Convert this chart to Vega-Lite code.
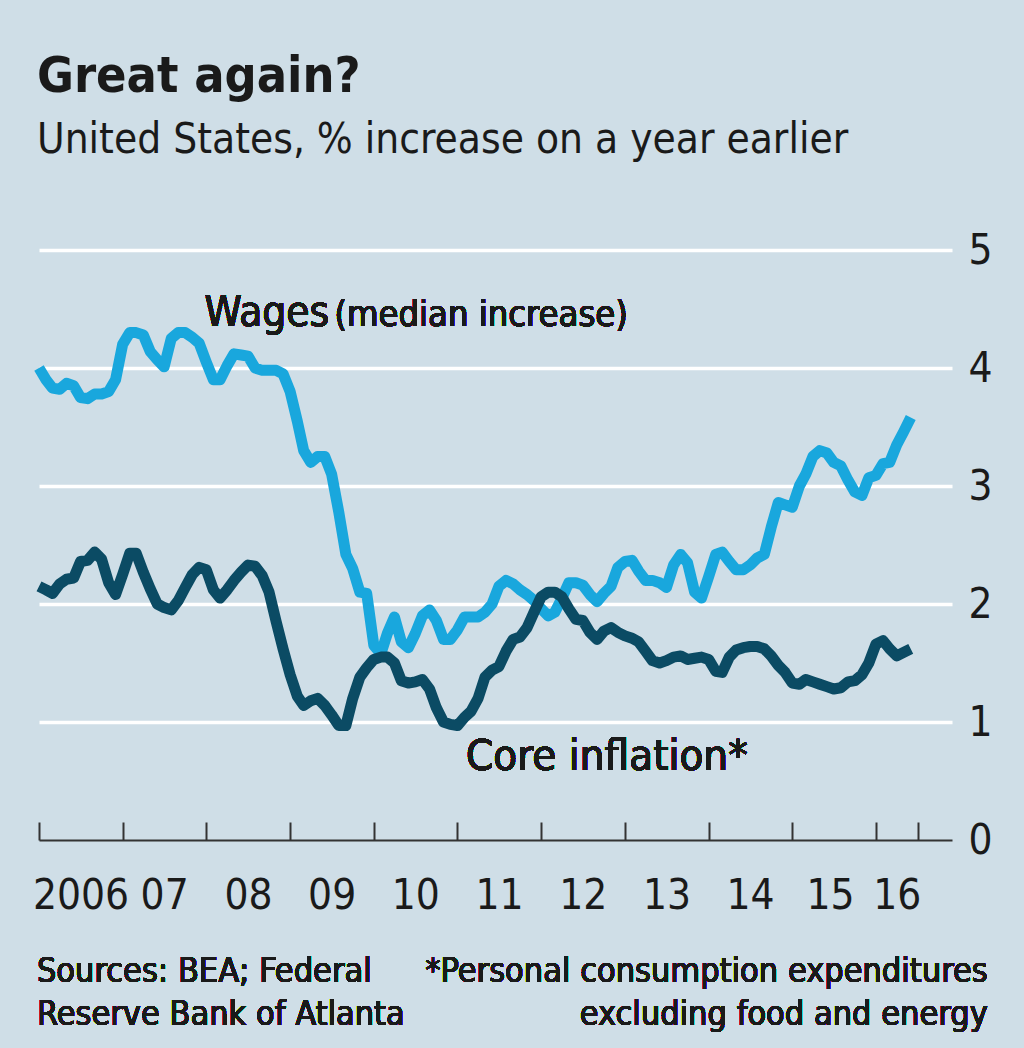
{
  "$schema": "https://vega.github.io/schema/vega-lite/v6.json",
  "width": 913,
  "height": 590,
  "autosize": "none",
  "padding": {"left": 39, "top": 250, "right": 72, "bottom": 208},
  "background": "#cfdee7",
  "config": {"view": {"stroke": null}, "font": "DejaVu Sans Condensed, Roboto, sans-serif"},
  "title": {
    "text": "Great again?",
    "subtitle": "United States, % increase on a year earlier",
    "anchor": "start",
    "frame": "group",
    "dx": -2,
    "font": "DejaVu Sans Condensed, Roboto, sans-serif",
    "fontSize": 50,
    "fontWeight": "bold",
    "color": "#1a1a1a",
    "subtitleFont": "DejaVu Sans Condensed, Roboto, sans-serif",
    "subtitleFontSize": 42,
    "subtitleColor": "#1a1a1a",
    "subtitlePadding": 18,
    "offset": 68
  },
  "data": {
    "values": [
      {"d": "2006-01", "w": 4.0, "c": 2.15},
      {"d": "2006-02", "w": 3.9, "c": 2.12},
      {"d": "2006-03", "w": 3.83, "c": 2.09},
      {"d": "2006-04", "w": 3.82, "c": 2.17},
      {"d": "2006-05", "w": 3.87, "c": 2.21},
      {"d": "2006-06", "w": 3.85, "c": 2.22},
      {"d": "2006-07", "w": 3.75, "c": 2.36},
      {"d": "2006-08", "w": 3.74, "c": 2.37},
      {"d": "2006-09", "w": 3.78, "c": 2.44},
      {"d": "2006-10", "w": 3.78, "c": 2.38},
      {"d": "2006-11", "w": 3.8, "c": 2.18},
      {"d": "2006-12", "w": 3.9, "c": 2.08},
      {"d": "2007-01", "w": 4.2, "c": 2.25},
      {"d": "2007-02", "w": 4.3, "c": 2.43},
      {"d": "2007-03", "w": 4.3, "c": 2.43},
      {"d": "2007-04", "w": 4.28, "c": 2.27},
      {"d": "2007-05", "w": 4.14, "c": 2.13},
      {"d": "2007-06", "w": 4.07, "c": 2.0},
      {"d": "2007-07", "w": 4.01, "c": 1.97},
      {"d": "2007-08", "w": 4.25, "c": 1.95},
      {"d": "2007-09", "w": 4.3, "c": 2.03},
      {"d": "2007-10", "w": 4.3, "c": 2.14},
      {"d": "2007-11", "w": 4.26, "c": 2.25},
      {"d": "2007-12", "w": 4.21, "c": 2.31},
      {"d": "2008-01", "w": 4.05, "c": 2.29},
      {"d": "2008-02", "w": 3.9, "c": 2.12},
      {"d": "2008-03", "w": 3.9, "c": 2.05},
      {"d": "2008-04", "w": 4.02, "c": 2.12},
      {"d": "2008-05", "w": 4.12, "c": 2.2},
      {"d": "2008-06", "w": 4.11, "c": 2.27},
      {"d": "2008-07", "w": 4.1, "c": 2.33},
      {"d": "2008-08", "w": 4.0, "c": 2.32},
      {"d": "2008-09", "w": 3.98, "c": 2.24},
      {"d": "2008-10", "w": 3.98, "c": 2.1},
      {"d": "2008-11", "w": 3.98, "c": 1.85},
      {"d": "2008-12", "w": 3.95, "c": 1.62},
      {"d": "2009-01", "w": 3.8, "c": 1.4},
      {"d": "2009-02", "w": 3.55, "c": 1.22},
      {"d": "2009-03", "w": 3.3, "c": 1.14},
      {"d": "2009-04", "w": 3.2, "c": 1.18},
      {"d": "2009-05", "w": 3.25, "c": 1.2},
      {"d": "2009-06", "w": 3.25, "c": 1.14},
      {"d": "2009-07", "w": 3.1, "c": 1.06},
      {"d": "2009-08", "w": 2.78, "c": 0.97},
      {"d": "2009-09", "w": 2.42, "c": 0.97},
      {"d": "2009-10", "w": 2.3, "c": 1.2},
      {"d": "2009-11", "w": 2.1, "c": 1.38},
      {"d": "2009-12", "w": 2.09, "c": 1.46},
      {"d": "2010-01", "w": 1.65, "c": 1.53},
      {"d": "2010-02", "w": 1.58, "c": 1.55},
      {"d": "2010-03", "w": 1.75, "c": 1.55},
      {"d": "2010-04", "w": 1.89, "c": 1.5},
      {"d": "2010-05", "w": 1.68, "c": 1.35},
      {"d": "2010-06", "w": 1.63, "c": 1.33},
      {"d": "2010-07", "w": 1.75, "c": 1.34},
      {"d": "2010-08", "w": 1.9, "c": 1.36},
      {"d": "2010-09", "w": 1.95, "c": 1.28},
      {"d": "2010-10", "w": 1.86, "c": 1.12},
      {"d": "2010-11", "w": 1.7, "c": 1.0},
      {"d": "2010-12", "w": 1.7, "c": 0.98},
      {"d": "2011-01", "w": 1.78, "c": 0.97},
      {"d": "2011-02", "w": 1.89, "c": 1.04},
      {"d": "2011-03", "w": 1.89, "c": 1.09},
      {"d": "2011-04", "w": 1.89, "c": 1.2},
      {"d": "2011-05", "w": 1.93, "c": 1.38},
      {"d": "2011-06", "w": 2.0, "c": 1.44},
      {"d": "2011-07", "w": 2.15, "c": 1.47},
      {"d": "2011-08", "w": 2.2, "c": 1.6},
      {"d": "2011-09", "w": 2.17, "c": 1.7},
      {"d": "2011-10", "w": 2.12, "c": 1.72},
      {"d": "2011-11", "w": 2.08, "c": 1.8},
      {"d": "2011-12", "w": 2.03, "c": 1.93},
      {"d": "2012-01", "w": 1.96, "c": 2.06},
      {"d": "2012-02", "w": 1.9, "c": 2.1},
      {"d": "2012-03", "w": 1.93, "c": 2.1},
      {"d": "2012-04", "w": 2.05, "c": 2.06},
      {"d": "2012-05", "w": 2.18, "c": 1.96},
      {"d": "2012-06", "w": 2.18, "c": 1.87},
      {"d": "2012-07", "w": 2.16, "c": 1.86},
      {"d": "2012-08", "w": 2.08, "c": 1.76},
      {"d": "2012-09", "w": 2.02, "c": 1.7},
      {"d": "2012-10", "w": 2.09, "c": 1.77},
      {"d": "2012-11", "w": 2.15, "c": 1.8},
      {"d": "2012-12", "w": 2.31, "c": 1.76},
      {"d": "2013-01", "w": 2.36, "c": 1.73},
      {"d": "2013-02", "w": 2.37, "c": 1.71},
      {"d": "2013-03", "w": 2.28, "c": 1.68},
      {"d": "2013-04", "w": 2.2, "c": 1.6},
      {"d": "2013-05", "w": 2.2, "c": 1.52},
      {"d": "2013-06", "w": 2.18, "c": 1.5},
      {"d": "2013-07", "w": 2.14, "c": 1.52},
      {"d": "2013-08", "w": 2.33, "c": 1.55},
      {"d": "2013-09", "w": 2.42, "c": 1.56},
      {"d": "2013-10", "w": 2.35, "c": 1.53},
      {"d": "2013-11", "w": 2.1, "c": 1.54},
      {"d": "2013-12", "w": 2.05, "c": 1.55},
      {"d": "2014-01", "w": 2.23, "c": 1.53},
      {"d": "2014-02", "w": 2.42, "c": 1.43},
      {"d": "2014-03", "w": 2.44, "c": 1.42},
      {"d": "2014-04", "w": 2.36, "c": 1.55},
      {"d": "2014-05", "w": 2.29, "c": 1.61},
      {"d": "2014-06", "w": 2.29, "c": 1.63},
      {"d": "2014-07", "w": 2.33, "c": 1.64},
      {"d": "2014-08", "w": 2.39, "c": 1.64},
      {"d": "2014-09", "w": 2.42, "c": 1.62},
      {"d": "2014-10", "w": 2.65, "c": 1.56},
      {"d": "2014-11", "w": 2.86, "c": 1.48},
      {"d": "2014-12", "w": 2.84, "c": 1.42},
      {"d": "2015-01", "w": 2.82, "c": 1.33},
      {"d": "2015-02", "w": 3.0, "c": 1.32},
      {"d": "2015-03", "w": 3.1, "c": 1.36},
      {"d": "2015-04", "w": 3.25, "c": 1.34},
      {"d": "2015-05", "w": 3.3, "c": 1.32},
      {"d": "2015-06", "w": 3.28, "c": 1.3},
      {"d": "2015-07", "w": 3.2, "c": 1.28},
      {"d": "2015-08", "w": 3.17, "c": 1.29},
      {"d": "2015-09", "w": 3.05, "c": 1.34},
      {"d": "2015-10", "w": 2.95, "c": 1.35},
      {"d": "2015-11", "w": 2.92, "c": 1.4},
      {"d": "2015-12", "w": 3.07, "c": 1.5},
      {"d": "2016-01", "w": 3.09, "c": 1.66},
      {"d": "2016-02", "w": 3.19, "c": 1.69},
      {"d": "2016-03", "w": 3.2, "c": 1.62},
      {"d": "2016-04", "w": 3.35, "c": 1.56},
      {"d": "2016-05", "w": 3.46, "c": 1.59},
      {"d": "2016-06", "w": 3.58, "c": 1.62}
    ]
  },
  "resolve": {"axis": {"x": "independent", "y": "independent"}},
  "layer": [
    {
      "mark": {"type": "line", "stroke": "#19a7dd", "strokeWidth": 11, "strokeJoin": "round"},
      "encoding": {
        "x": {
          "field": "d", "type": "temporal",
          "scale": {"type": "utc", "domain": [{"year": 2006, "month": 1, "date": 1, "utc": true}, {"year": 2016, "month": 11, "date": 28, "utc": true}]},
          "axis": {
            "orient": "bottom",
            "title": null,
            "labels": false,
            "grid": false,
            "domain": true,
            "domainColor": "#333333",
            "domainWidth": 2,
            "ticks": true,
            "tickSize": -18,
            "tickColor": "#333333",
            "tickWidth": 2,
            "values": [
              {"year": 2006, "month": 1, "date": 1, "utc": true},
              {"year": 2007, "month": 1, "date": 1, "utc": true},
              {"year": 2008, "month": 1, "date": 1, "utc": true},
              {"year": 2009, "month": 1, "date": 1, "utc": true},
              {"year": 2010, "month": 1, "date": 1, "utc": true},
              {"year": 2011, "month": 1, "date": 1, "utc": true},
              {"year": 2012, "month": 1, "date": 1, "utc": true},
              {"year": 2013, "month": 1, "date": 1, "utc": true},
              {"year": 2014, "month": 1, "date": 1, "utc": true},
              {"year": 2015, "month": 1, "date": 1, "utc": true},
              {"year": 2016, "month": 1, "date": 1, "utc": true},
              {"year": 2016, "month": 7, "date": 1, "utc": true}
            ]
          }
        },
        "y": {
          "field": "w", "type": "quantitative",
          "scale": {"domain": [0, 5], "nice": false, "zero": false},
          "axis": {
            "orient": "right",
            "title": null,
            "values": [0, 1, 2, 3, 4, 5],
            "domain": false,
            "ticks": false,
            "grid": true,
            "gridColor": "#ffffff",
            "gridWidth": 3.5,
            "gridOpacity": {"condition": {"test": "datum.value === 0", "value": 0}, "value": 1},
            "labelFont": "DejaVu Sans Condensed, Roboto, sans-serif",
            "labelFontSize": 42,
            "labelColor": "#1a1a1a",
            "labelPadding": 16,
            "labelAlign": "left",
            "labelBaseline": "middle"
          }
        }
      }
    },
    {
      "mark": {"type": "line", "stroke": "#0b4b64", "strokeWidth": 11, "strokeJoin": "round"},
      "encoding": {
        "x": {
          "field": "d", "type": "temporal",
          "axis": {
            "orient": "bottom",
            "title": null,
            "domain": false,
            "ticks": false,
            "grid": false,
            "labelFont": "DejaVu Sans Condensed, Roboto, sans-serif",
            "labelFontSize": 42,
            "labelColor": "#1a1a1a",
            "labelPadding": 35,
            "labelFlush": false,
            "labelOverlap": false,
            "labelExpr": "utcyear(datum.value) === 2006 ? '2006' : utcFormat(datum.value, '%y')",
            "values": [
              {"year": 2006, "month": 7, "date": 1, "utc": true},
              {"year": 2007, "month": 7, "date": 1, "utc": true},
              {"year": 2008, "month": 7, "date": 1, "utc": true},
              {"year": 2009, "month": 7, "date": 1, "utc": true},
              {"year": 2010, "month": 7, "date": 1, "utc": true},
              {"year": 2011, "month": 7, "date": 1, "utc": true},
              {"year": 2012, "month": 7, "date": 1, "utc": true},
              {"year": 2013, "month": 7, "date": 1, "utc": true},
              {"year": 2014, "month": 7, "date": 1, "utc": true},
              {"year": 2015, "month": 6, "date": 15, "utc": true},
              {"year": 2016, "month": 4, "date": 1, "utc": true}
            ]
          }
        },
        "y": {"field": "c", "type": "quantitative", "axis": null}
      }
    },
    {
      "mark": {"type": "text", "text": "Wages", "align": "left", "baseline": "alphabetic", "fontSize": 42, "color": "#1a1a1a"},
      "encoding": {
        "x": {"datum": {"year": 2007, "month": 12, "date": 24, "utc": true}, "type": "temporal", "axis": null},
        "y": {"datum": 4.356, "type": "quantitative", "axis": null}
      }
    },
    {
      "mark": {"type": "text", "text": "(median increase)", "align": "left", "baseline": "alphabetic", "fontSize": 36, "color": "#1a1a1a"},
      "encoding": {
        "x": {"datum": {"year": 2009, "month": 7, "date": 13, "utc": true}, "type": "temporal", "axis": null},
        "y": {"datum": 4.356, "type": "quantitative", "axis": null}
      }
    },
    {
      "mark": {"type": "text", "text": "Core inflation*", "align": "left", "baseline": "alphabetic", "fontSize": 43.5, "color": "#1a1a1a"},
      "encoding": {
        "x": {"datum": {"year": 2011, "month": 2, "date": 7, "utc": true}, "type": "temporal", "axis": null},
        "y": {"datum": 0.593, "type": "quantitative", "axis": null}
      }
    },
    {
      "mark": {"type": "text", "text": "Sources: BEA; Federal\nReserve Bank of Atlanta", "lineBreak": "\n", "lineHeight": 43, "align": "left", "baseline": "alphabetic", "fontSize": 34, "color": "#1a1a1a"},
      "encoding": {
        "x": {"datum": {"year": 2005, "month": 12, "date": 23, "utc": true}, "type": "temporal", "axis": null},
        "y": {"datum": -1.203, "type": "quantitative", "axis": null}
      }
    },
    {
      "mark": {"type": "text", "text": "*Personal consumption expenditures\nexcluding food and energy", "lineBreak": "\n", "lineHeight": 43, "align": "right", "baseline": "alphabetic", "fontSize": 34, "color": "#1a1a1a"},
      "encoding": {
        "x": {"datum": {"year": 2017, "month": 5, "date": 3, "utc": true}, "type": "temporal", "axis": null},
        "y": {"datum": -1.203, "type": "quantitative", "axis": null}
      }
    }
  ]
}
